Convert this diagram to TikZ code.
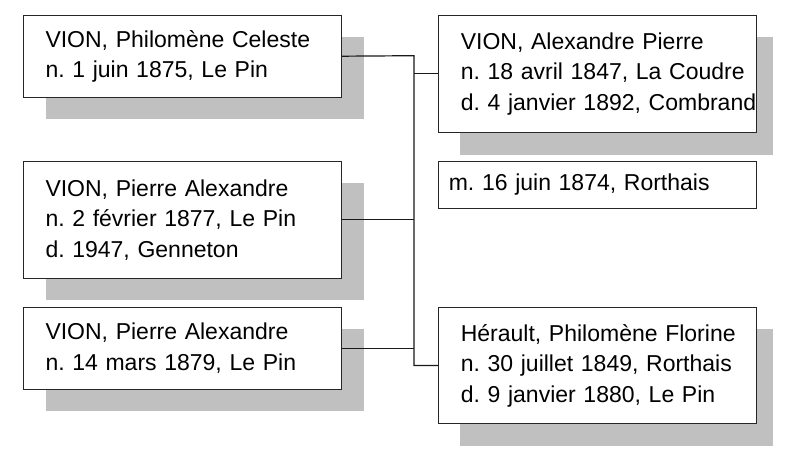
\documentclass[tikz,border=0pt]{standalone}
\usepackage{fontspec}
\setmainfont{Liberation Sans}
\usetikzlibrary{shadows,backgrounds}
\definecolor{shadowgray}{RGB}{192,192,192}
\newcommand{\oneline}[1]{\mbox{#1}}
\tikzset{
  box/.style={draw=black!85, fill=white, line width=1pt, anchor=north west,
    minimum width=318pt, inner ysep=0pt, align=left,
    font=\fontsize{23}{30.5}\selectfont\frenchspacing},
  person/.style={box, text width=274pt, inner xsep=22pt},
  child/.style={person,
    drop shadow={shadow xshift=22pt, shadow yshift=-22pt, fill=shadowgray, opacity=1}},
  event/.style={box, text width=298pt, inner xsep=10pt},
  link/.style={line width=1.2pt, black!90}
}
\begin{document}
\begin{tikzpicture}[x=1pt, y=-1pt]
    \useasboundingbox (0,0) rectangle (785,449);

    % --- children ---
    \node[child, minimum height=82pt] (child1) at (23,14.7)
      {\oneline{VION, Philomène Celeste}\\\oneline{n. 1 juin 1875, Le Pin}};
    \node[child, minimum height=117pt] (child2) at (23,160.7)
      {\oneline{VION, Pierre Alexandre}\\\oneline{n. 2 février 1877, Le Pin}\\\oneline{d. 1947, Genneton}};
    \node[child, minimum height=82pt] (child3) at (23,306.7)
      {\oneline{VION, Pierre Alexandre}\\\oneline{n. 14 mars 1879, Le Pin}};

    % --- parents ---
    \node[person, minimum height=116.7pt] (father) at (438.3,15)
      {\oneline{VION, Alexandre Pierre}\\\oneline{n. 18 avril 1847, La Coudre}\\\oneline{d. 4 janvier 1892, Combrand}};
    \node[event, minimum height=46.7pt] (marriage) at (438.3,161)
      {\oneline{m. 16 juin 1874, Rorthais}};
    \node[person, minimum height=116.7pt] (mother) at (438.3,306.7)
      {\oneline{Hérault, Philomène Florine}\\\oneline{n. 30 juillet 1849, Rorthais}\\\oneline{d. 9 janvier 1880, Le Pin}};

    % shadows of the parents stop at the page edge
    \begin{scope}[on background layer]
      \fill[shadowgray] ([xshift=22pt,yshift=-22pt]father.north west) rectangle ([yshift=-22pt]father.south east -| 773,0);
      \fill[shadowgray] ([xshift=22pt,yshift=-22pt]mother.north west) rectangle ([yshift=-22pt]mother.south east -| 773,0);
    \end{scope}

    % --- connectors ---
    \coordinate (spine) at (414,55.7);
    \draw[link] (child1.east) -- (spine) |- (mother.west);
    \draw[link] (child2.east) -- (child2.east -| spine);
    \draw[link] (child3.east) -- (child3.east -| spine);
    \draw[link] (father.west -| spine) -- (father.west);
\end{tikzpicture}
\end{document}
